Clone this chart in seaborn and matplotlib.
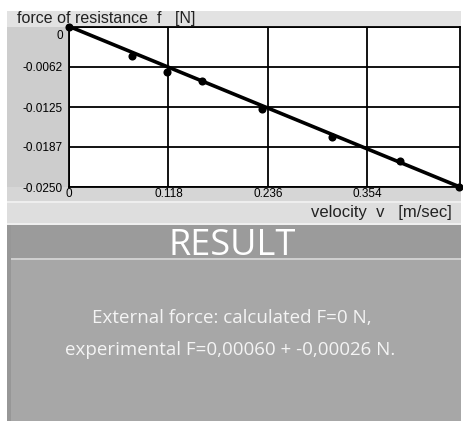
import matplotlib
matplotlib.use("Agg")
import matplotlib.pyplot as plt
import seaborn as sns
import pandas as pd
from matplotlib.patches import Rectangle
from matplotlib.transforms import ScaledTranslation

# ---- data ----
velocity = [0.0, 0.075, 0.116, 0.158, 0.229, 0.312, 0.392, 0.4625]
force = [0.0, -0.0045, -0.0070, -0.0084, -0.0128, -0.0172, -0.0209, -0.0250]
fit_velocity = [0.0, 0.4637]
fit_force = [0.0001, -0.0250]
x_ticks = [0, 0.118, 0.236, 0.354]
x_tick_labels = ["0", "0.118", "0.236", "0.354"]
y_ticks = [0, -0.0062, -0.0125, -0.0187, -0.0250]
y_tick_labels = ["0", "-0.0062", "-0.0125", "-0.0187", "-0.0250"]
y_title = "force of resistance  f   [N]"
x_title = "velocity  v   [m/sec]"
result_title = "RESULT"
result_lines = ["External force: calculated F=0 N,",
                "experimental F=0,00060 + -0,00026 N."]

pts = pd.DataFrame({"v": velocity, "f": force})
fit = pd.DataFrame({"v": fit_velocity, "f": fit_force})

sns.set_theme(style="white")
plt.rcParams["font.family"] = ["Liberation Sans", "DejaVu Sans"]

W, H = 463, 421
fig = plt.figure(figsize=(W / 100, H / 100), dpi=100)
fig.patch.set_facecolor("white")


def rect(x0, y0, x1, y1, color):
    fig.patches.append(Rectangle((x0 / W, 1 - y1 / H), (x1 - x0) / W, (y1 - y0) / H,
                                 transform=fig.transFigure, facecolor=color,
                                 edgecolor="none", zorder=0))


# background bands
rect(7, 11, 461, 27, "#e2e2e2")
rect(7, 27, 69, 188, "#cdcdcd")
rect(7, 187, 461, 201, "#d6d6d6")
rect(7, 201, 461, 203, "#eeeeee")
rect(7, 203, 461, 223, "#dedede")
rect(7, 223, 461, 225, "#efefef")
rect(7, 225, 461, 258, "#9b9b9b")
rect(7, 258, 461, 260, "#cfcfcf")
rect(7, 260, 461, 421, "#a7a7a7")
rect(7, 225, 11, 421, "#979797")

ax = fig.add_axes([69 / W, 1 - 187 / H, 391 / W, 160 / H])
ax.set_zorder(2)
ax.set_facecolor("white")

sns.lineplot(data=fit, x="v", y="f", ax=ax, color="black", linewidth=2.6, zorder=3)
sns.scatterplot(data=pts, x="v", y="f", ax=ax, color="black", s=34,
                edgecolor="black", linewidth=0, zorder=4, clip_on=False)

ax.set_xlim(0, 0.4637)
ax.set_ylim(-0.0250, 0)
ax.set_xticks(x_ticks)
ax.set_xticklabels(x_tick_labels, fontsize=8.5)
ax.set_yticks(y_ticks)
ax.set_yticklabels(y_tick_labels, fontsize=8.5)
ax.tick_params(axis="y", length=0, pad=4.5, colors="black")
ax.tick_params(axis="x", length=0, pad=0.5, colors="black")
ax.grid(True, color="black", linewidth=1.3)
for s in ax.spines.values():
    s.set_color("black")
    s.set_linewidth(1.3)
ax.set_xlabel("")
ax.set_ylabel("")
yl = ax.get_yticklabels()
yl[0].set_va("top")
yl[0].set_transform(yl[0].get_transform() + ScaledTranslation(0, -2 / 72, fig.dpi_scale_trans))

fig.text(17 / W, 1 - 18 / H, y_title, fontsize=11.5, color="#222222", va="center", ha="left")
fig.text(452 / W, 1 - 213 / H, x_title, fontsize=12, color="#222222", va="center", ha="right")

fig.text(232 / W, 1 - 255 / H, result_title, fontsize=26, color="white",
         va="baseline", ha="center", family=["Open Sans", "DejaVu Sans"])
fig.text(232 / W, 1 - 318 / H, result_lines[0], fontsize=13.5, color="#f4f4f4",
         va="center", ha="center", family=["Open Sans", "DejaVu Sans"])
fig.text(230 / W, 1 - 350 / H, result_lines[1], fontsize=13.5, color="#f4f4f4",
         va="center", ha="center", family=["Open Sans", "DejaVu Sans"])

fig.savefig("out.png", dpi=100)
